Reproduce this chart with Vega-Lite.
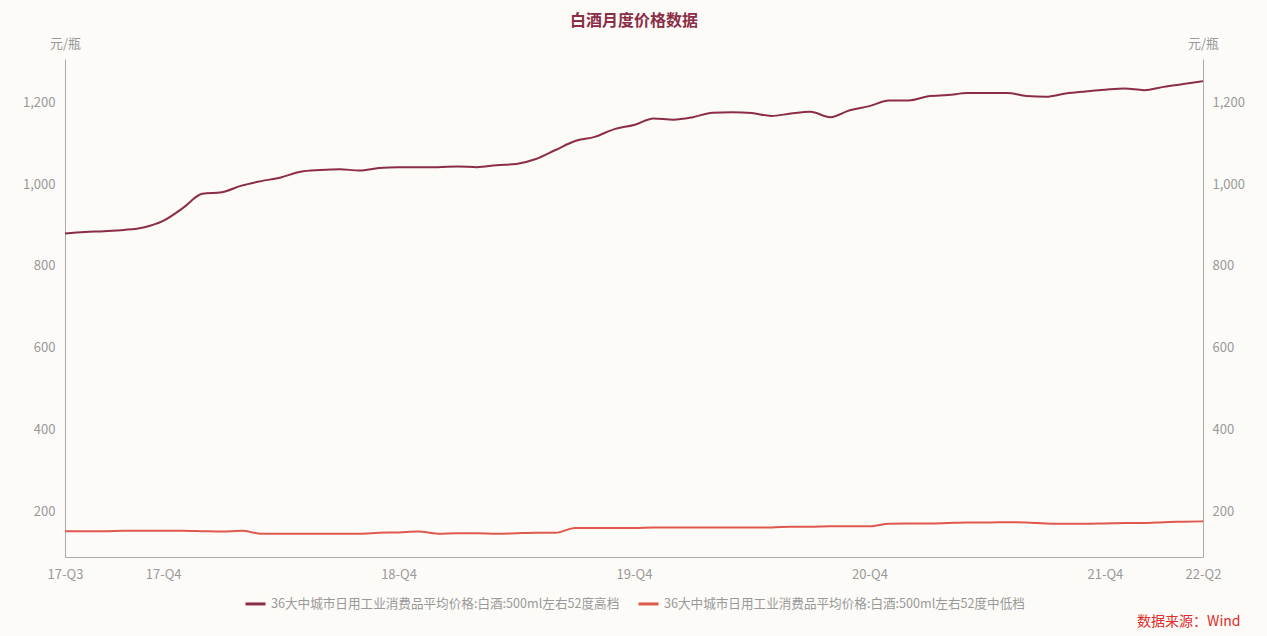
{
  "$schema": "https://vega.github.io/schema/vega-lite/v6.json",
  "background": "#FCFBF7",
  "padding": {"left": 22, "top": 13, "right": 22, "bottom": 8},
  "title": {"text": "数据来源：Wind", "orient": "bottom", "anchor": "end", "color": "#E02B2B", "fontSize": 14, "fontWeight": "normal", "font": "Noto Sans CJK SC", "offset": 4, "dx": -4},
  "datasets": {
    "hi": [
      {"m":"2017-07","v":879},{"m":"2017-08","v":883},{"m":"2017-09","v":885},{"m":"2017-10","v":888},{"m":"2017-11","v":894},{"m":"2017-12","v":910},
      {"m":"2018-01","v":941},{"m":"2018-02","v":976},{"m":"2018-03","v":980},{"m":"2018-04","v":996},{"m":"2018-05","v":1007},{"m":"2018-06","v":1016},
      {"m":"2018-07","v":1030},{"m":"2018-08","v":1034},{"m":"2018-09","v":1036},{"m":"2018-10","v":1033},{"m":"2018-11","v":1039},{"m":"2018-12","v":1041},
      {"m":"2019-01","v":1041},{"m":"2019-02","v":1041},{"m":"2019-03","v":1043},{"m":"2019-04","v":1041},{"m":"2019-05","v":1046},{"m":"2019-06","v":1049},
      {"m":"2019-07","v":1061},{"m":"2019-08","v":1083},{"m":"2019-09","v":1105},{"m":"2019-10","v":1115},{"m":"2019-11","v":1134},{"m":"2019-12","v":1144},
      {"m":"2020-01","v":1160},{"m":"2020-02","v":1157},{"m":"2020-03","v":1163},{"m":"2020-04","v":1174},{"m":"2020-05","v":1175},{"m":"2020-06","v":1173},
      {"m":"2020-07","v":1166},{"m":"2020-08","v":1172},{"m":"2020-09","v":1176},{"m":"2020-10","v":1163},{"m":"2020-11","v":1180},{"m":"2020-12","v":1190},
      {"m":"2021-01","v":1204},{"m":"2021-02","v":1204},{"m":"2021-03","v":1214},{"m":"2021-04","v":1217},{"m":"2021-05","v":1222},{"m":"2021-06","v":1222},
      {"m":"2021-07","v":1222},{"m":"2021-08","v":1215},{"m":"2021-09","v":1213},{"m":"2021-10","v":1221},{"m":"2021-11","v":1226},{"m":"2021-12","v":1230},
      {"m":"2022-01","v":1233},{"m":"2022-02","v":1229},{"m":"2022-03","v":1237},{"m":"2022-04","v":1244},{"m":"2022-05","v":1251}
    ],
    "lo": [
      {"m":"2017-07","v":153},{"m":"2017-08","v":153},{"m":"2017-09","v":153},{"m":"2017-10","v":154},{"m":"2017-11","v":154},{"m":"2017-12","v":154},
      {"m":"2018-01","v":154},{"m":"2018-02","v":153},{"m":"2018-03","v":152},{"m":"2018-04","v":154},{"m":"2018-05","v":147},{"m":"2018-06","v":147},
      {"m":"2018-07","v":147},{"m":"2018-08","v":147},{"m":"2018-09","v":147},{"m":"2018-10","v":147},{"m":"2018-11","v":149},{"m":"2018-12","v":150},
      {"m":"2019-01","v":152},{"m":"2019-02","v":147},{"m":"2019-03","v":148},{"m":"2019-04","v":148},{"m":"2019-05","v":147},{"m":"2019-06","v":148},
      {"m":"2019-07","v":149},{"m":"2019-08","v":149},{"m":"2019-09","v":161},{"m":"2019-10","v":161},{"m":"2019-11","v":161},{"m":"2019-12","v":161},
      {"m":"2020-01","v":162},{"m":"2020-02","v":162},{"m":"2020-03","v":162},{"m":"2020-04","v":162},{"m":"2020-05","v":162},{"m":"2020-06","v":162},
      {"m":"2020-07","v":162},{"m":"2020-08","v":164},{"m":"2020-09","v":164},{"m":"2020-10","v":165},{"m":"2020-11","v":165},{"m":"2020-12","v":165},
      {"m":"2021-01","v":171},{"m":"2021-02","v":172},{"m":"2021-03","v":172},{"m":"2021-04","v":173},{"m":"2021-05","v":174},{"m":"2021-06","v":174},
      {"m":"2021-07","v":175},{"m":"2021-08","v":174},{"m":"2021-09","v":172},{"m":"2021-10","v":171},{"m":"2021-11","v":171},{"m":"2021-12","v":172},
      {"m":"2022-01","v":173},{"m":"2022-02","v":173},{"m":"2022-03","v":175},{"m":"2022-04","v":176},{"m":"2022-05","v":177}
    ]
  },
  "vconcat": [
    {
      "title": {"text": "白酒月度价格数据", "color": "#8C2D46", "fontSize": 16, "fontWeight": "bold", "font": "Noto Sans CJK SC", "anchor": "middle", "offset": 8},
      "width": 1138,
      "height": 498,
      "encoding": {
        "x": {
          "field": "m", "type": "ordinal",
          "scale": {"type": "point", "padding": 0},
          "axis": {
            "title": null, "labelAngle": 0,
            "values": ["2017-07","2017-12","2018-12","2019-12","2020-12","2021-12","2022-05"],
            "labelExpr": "slice(datum.value,2,4) + '-Q' + ceil(toNumber(slice(datum.value,5,7))/3)",
            "labelPadding": 11
          }
        },
        "y": {
          "field": "v", "type": "quantitative",
          "scale": {"domain": [90, 1305], "nice": false, "zero": false}
        },
        "color": {
          "field": "s", "type": "nominal",
          "scale": {
            "domain": ["36大中城市日用工业消费品平均价格:白酒:500ml左右52度高档", "36大中城市日用工业消费品平均价格:白酒:500ml左右52度中低档"],
            "range": ["#8C2D46", "#E0584D"]
          },
          "legend": {"title": null, "orient": "bottom", "direction": "horizontal", "symbolType": "stroke", "symbolSize": 400, "symbolStrokeWidth": 3, "labelFontSize": 12.6, "labelColor": "#999999", "labelFont": "Noto Sans CJK SC", "labelLimit": 0, "columnPadding": 12, "offset": 11}
        }
      },
      "layer": [
        {
          "data": {"name": "hi"},
          "transform": [{"calculate": "'36大中城市日用工业消费品平均价格:白酒:500ml左右52度高档'", "as": "s"}],
          "mark": {"type": "line", "interpolate": "monotone", "strokeWidth": 2},
          "encoding": {
            "y": {
              "field": "v", "type": "quantitative",
              "scale": {"domain": [90, 1305], "nice": false, "zero": false},
              "axis": {"orient": "left", "title": "元/瓶", "values": [200,400,600,800,1000,1200], "format": ",.0f", "labelPadding": 10, "titleAngle": 0, "titleX": 0, "titleY": -16, "titleAlign": "center", "titleBaseline": "middle"}
            }
          }
        },
        {
          "data": {"name": "lo"},
          "transform": [{"calculate": "'36大中城市日用工业消费品平均价格:白酒:500ml左右52度中低档'", "as": "s"}],
          "mark": {"type": "line", "interpolate": "monotone", "strokeWidth": 2},
          "encoding": {
            "y": {
              "field": "v", "type": "quantitative",
              "scale": {"domain": [90, 1305], "nice": false, "zero": false},
              "axis": {"orient": "right", "title": "元/瓶", "values": [200,400,600,800,1000,1200], "format": ",.0f", "labelPadding": 9, "titleAngle": 0, "titleX": 0, "titleY": -16, "titleAlign": "center", "titleBaseline": "middle"}
            }
          }
        }
      ],
      "resolve": {"axis": {"y": "independent"}}
    }
  ],
  "config": {
    "view": {"stroke": null},
    "font": "Noto Sans CJK SC",
    "axis": {"grid": false, "ticks": false, "domainColor": "#AAAAAA", "domainWidth": 1, "labelColor": "#999999", "labelFontSize": 13, "labelFont": "Noto Sans CJK SC", "titleColor": "#999999", "titleFontSize": 13, "titleFontWeight": "normal", "titleFont": "Noto Sans CJK SC"},
    "legend": {"layout": {"bottom": {"anchor": "middle"}}}
  }
}
